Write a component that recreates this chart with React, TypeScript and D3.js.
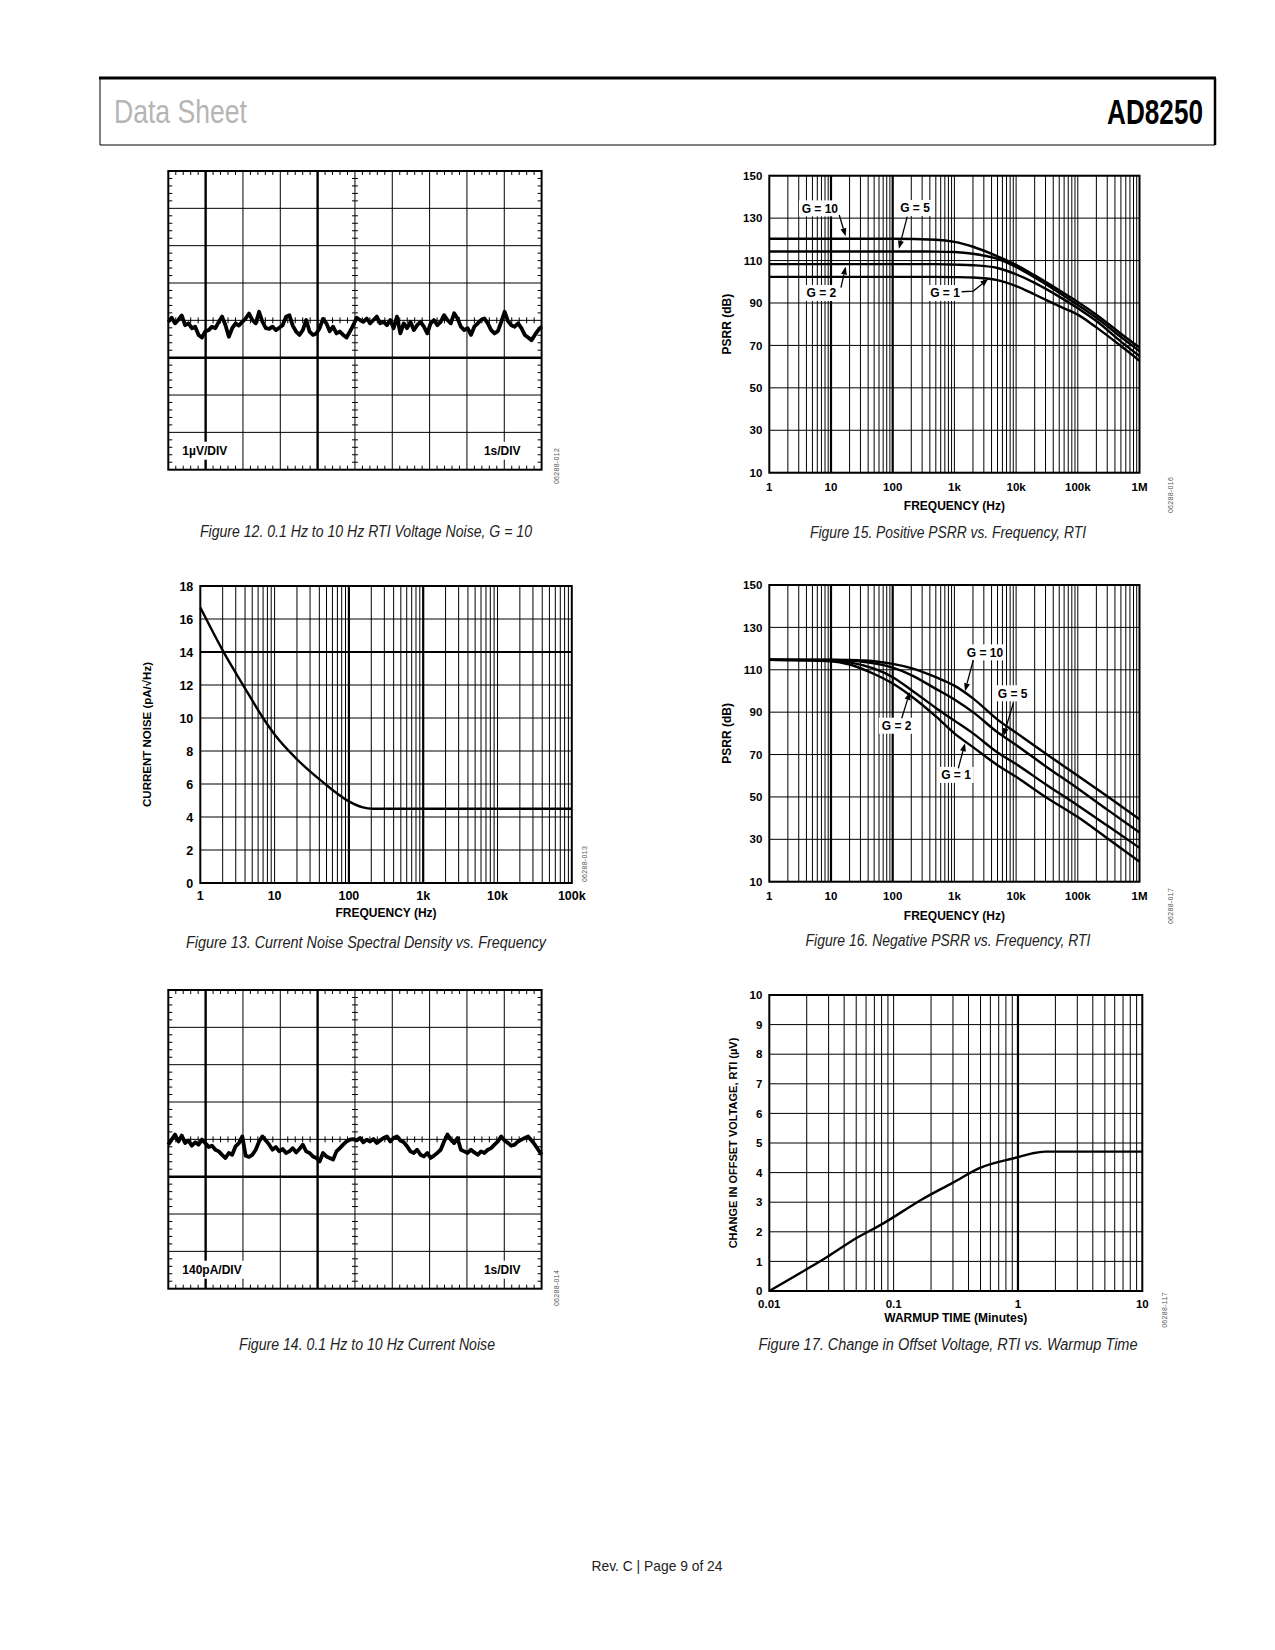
import * as d3 from "d3";

const FONT = "'Liberation Sans', Arial, Helvetica, sans-serif";
const CAP_FONT = "'Liberation Sans Narrow', 'Arial Narrow', 'Liberation Sans', sans-serif";

// ---- Fig 12: 0.1 Hz to 10 Hz voltage noise trace (uV, 1 uV/div)
const voltageNoise = [
  -0.04, 0.07, -0.08, 0.01, 0.13, -0.13, -0.08, -0.21, -0.17, -0.39, -0.46, -0.3, -0.26, -0.17,
  -0.21, -0.04, 0.1, -0.13, -0.44, -0.21, -0.08, -0.14, -0.04, 0.05, 0.18, 0.01, -0.08, 0.23,
  -0.04, -0.21, -0.23, -0.17, -0.26, -0.2, -0.13, 0.1, 0.14, -0.14, -0.3, -0.39, -0.26, 0.01,
  -0.3, -0.39, -0.35, -0.21, 0.04, -0.08, -0.29, -0.17, -0.35, -0.3, -0.39, -0.46, -0.3, -0.13,
  0.07, 0.01, -0.04, 0.05, -0.08, 0.01, 0.1, -0.08, -0.04, -0.13, 0.01, -0.21, 0.1, -0.35,
  -0.08, -0.21, -0.04, -0.26, -0.13, -0.04, -0.17, -0.35, -0.08, 0.01, -0.13, -0.04, 0.14, 0.01,
  -0.08, 0.19, 0.05, -0.17, -0.26, -0.21, -0.39, -0.17, -0.08, 0.01, 0.05, -0.08, -0.26, -0.35,
  -0.29, -0.04, 0.23, -0.02, -0.13, -0.17, -0.08, -0.21, -0.39, -0.46, -0.53, -0.39, -0.26, -0.17,
];

// ---- Fig 14: 0.1 Hz to 10 Hz current noise trace (pA, 140 pA/div)
const currentNoise = [
  -20, -1, 18, -8, 14, -14, -4, -24, -11, -20, -1, -14, -29, -24, -39, -45, -58, -70, -51, -58,
  -26, -14, 11, -61, -66, -58, -39, -8, 11, -4, -20, -39, -29, -45, -36, -51, -45, -33, -49, -36,
  -20, -45, -51, -64, -70, -83, -51, -64, -70, -76, -45, -33, -20, -8, -1, 1, -4, 5, -11, -1,
  -8, 1, -14, -4, 5, 11, -8, 5, 11, -4, -11, -26, -45, -51, -39, -58, -64, -51, -70, -61,
  -51, -39, -8, 18, -1, -14, 5, -39, -45, -51, -39, -49, -58, -45, -51, -39, -33, -20, -8, 11,
  -4, -14, -24, -20, -8, -1, 5, 11, -4, -20, -39, -58,
];

// ---- Fig 13: current noise spectral density
const cnFreq = [1, 2, 4, 7, 10, 20, 45, 100, 150, 214, 1000, 10000, 100000];
const cnDensity = [16.7, 14.1, 11.8, 10.0, 9.0, 7.5, 6.1, 4.95, 4.6, 4.5, 4.5, 4.5, 4.5];

// ---- Fig 15: positive PSRR
const posFreq = [1, 100, 500, 1e3, 2e3, 5e3, 1e4, 2e4, 5e4, 1e5, 2e5, 5e5, 1e6];
const posG10 = [120.3, 120.3, 119.8, 118.8, 116.5, 112, 108, 103, 96, 90.5, 84.5, 75.5, 69];
const posG5 = [114.3, 114.3, 114.2, 114, 113.2, 110.8, 107, 102, 94.8, 89, 83, 74, 67.3];
const posG2 = [108.3, 108.3, 108.3, 108.1, 107.8, 106.5, 103.5, 99.5, 93, 87.5, 81.5, 71.8, 65];
const posG1 = [102.3, 102.3, 102.3, 102.2, 102, 100.8, 98, 94, 88.5, 84.5, 78.5, 69.7, 62.8];

// ---- Fig 16: negative PSRR
const negFreq = [1, 10, 20, 50, 100, 200, 500, 1e3, 2e3, 5e3, 1e4, 3e4, 1e5, 3e5, 1e6];
const negG10 = [114.7, 114.7, 114.6, 114, 112.8, 110.8, 106.5, 102.5, 96.5, 86.5, 80.3, 70.5, 60, 50.3, 39.5];
const negG5 = [114.7, 114.6, 114.3, 113, 111, 107.5, 101, 96, 90, 80.5, 74.5, 64.5, 54, 44, 33.2];
const negG2 = [114.7, 114.4, 113.5, 110.5, 106.5, 100.5, 92, 86, 80, 71, 65.5, 56, 46, 36.5, 26];
const negG1 = [114.7, 114, 112.5, 108, 103.5, 97.5, 88, 80, 73.5, 65, 59.5, 50, 40.5, 30.5, 19.5];

// ---- Fig 17: offset change vs warmup time
const warmTime = [0.01, 0.0195, 0.0294, 0.05, 0.08, 0.17, 0.3, 0.49, 1, 1.3, 1.65, 3, 10];
const warmOffset = [0, 0.71, 1.16, 1.78, 2.25, 3.1, 3.66, 4.15, 4.52, 4.65, 4.71, 4.71, 4.71];

const freqLabels = ["1", "10", "100", "1k", "10k", "100k", "1M"];
const freqTickValues = [1, 10, 100, 1e3, 1e4, 1e5, 1e6];
const psrrTicks = [10, 30, 50, 70, 90, 110, 130, 150];
const noiseTicks = [0, 2, 4, 6, 8, 10, 12, 14, 16, 18];
const offsetTicks = [0, 1, 2, 3, 4, 5, 6, 7, 8, 9, 10];
const timeTickValues = [0.01, 0.1, 1, 10];
const timeLabels = ["0.01", "0.1", "1", "10"];

type Pt = [number, number];
interface Series { xs: number[]; ys: number[] }
interface Note { text: string; at: Pt; arrow: Pt[] }

const zip = (xs: number[], ys: number[]): Pt[] => xs.map((v, i) => [v, ys[i]]);

function Caption({ x, y, w, text }: { x: number; y: number; w: number; text: string }) {
  return (
    <text x={x} y={y} textAnchor="middle" fontFamily={CAP_FONT} fontStyle="italic" fontSize={16}
      textLength={w} lengthAdjust="spacingAndGlyphs" fill="#222">
      {text}
    </text>
  );
}

function Stamp({ x, y, text }: { x: number; y: number; text: string }) {
  return (
    <text transform={`translate(${x},${y}) rotate(-90)`} textAnchor="middle" dy="0.35em"
      fontFamily={FONT} fontSize={7} fill="#555" letterSpacing={0.3}>
      {text}
    </text>
  );
}

function Arrow({ pts }: { pts: Pt[] }) {
  const n = pts.length;
  const [tx, ty] = pts[n - 1];
  const [px, py] = pts[n - 2];
  const ang = Math.atan2(ty - py, tx - px);
  const L = 8, W = 3;
  const bx = tx - L * Math.cos(ang), by = ty - L * Math.sin(ang);
  const nx = -Math.sin(ang) * W, ny = Math.cos(ang) * W;
  const path = d3.line()(pts.slice(0, n - 1).concat([[bx, by]]));
  return (
    <g>
      <path d={path || ""} fill="none" stroke="#000" strokeWidth={1.3} />
      <polygon points={`${tx},${ty} ${bx + nx},${by + ny} ${bx - nx},${by - ny}`} fill="#000" />
    </g>
  );
}

interface LogChartProps {
  left: number; top: number; width: number; height: number;
  xDomain: [number, number]; yDomain: [number, number];
  yTicks: number[]; xTickValues: number[]; xTickLabels: string[];
  thickX: number[]; thickY: number[];
  series: Series[]; notes?: Note[];
  yTitle: string; yTitleX: number; yTitleSize?: number; tickSize?: number;
  xTitle: string; xLabelY: number; xTitleY: number;
}

function LogChart(p: LogChartProps) {
  const x = d3.scaleLog().domain(p.xDomain).range([p.left, p.left + p.width]);
  const y = d3.scaleLinear().domain(p.yDomain).range([p.top + p.height, p.top]);
  const d0 = Math.round(Math.log10(p.xDomain[0]));
  const d1 = Math.round(Math.log10(p.xDomain[1]));
  const verticals: number[] = [];
  for (let d = d0; d < d1; d++) {
    for (let k = 1; k < 10; k++) {
      const v = +(k * Math.pow(10, d)).toPrecision(4);
      if (v > p.xDomain[0] * 1.0001) verticals.push(v);
    }
  }
  const line = d3.line<Pt>().x((d) => x(d[0])).y((d) => y(d[1])).curve(d3.curveMonotoneX);
  const isThick = (arr: number[], v: number) => arr.some((a) => Math.abs(a - v) / a < 1e-6);
  const ts = p.tickSize || 11.5;
  return (
    <g fontFamily={FONT} fontWeight="bold">
      {verticals.map((v) => (
        <line key={"v" + v} x1={x(v)} x2={x(v)} y1={p.top} y2={p.top + p.height}
          stroke="#000" strokeWidth={isThick(p.thickX, v) ? 2.2 : 1} />
      ))}
      {p.yTicks.map((t) => (
        <line key={"h" + t} x1={p.left} x2={p.left + p.width} y1={y(t)} y2={y(t)}
          stroke="#000" strokeWidth={isThick(p.thickY, t) ? 2.2 : 1} />
      ))}
      <rect x={p.left} y={p.top} width={p.width} height={p.height} fill="none" stroke="#000" strokeWidth={2} />
      {p.series.map((s, i) => (
        <path key={"s" + i} d={line(zip(s.xs, s.ys)) || ""} fill="none" stroke="#000" strokeWidth={2.4} />
      ))}
      {(p.notes || []).map((n, i) => {
        const cx = x(n.at[0]), cy = y(n.at[1]);
        const w = n.text.length * 6.3 + 4;
        return (
          <g key={"n" + i}>
            <rect x={cx - w / 2} y={cy - 8} width={w} height={16} fill="#fff" />
            <text x={cx} y={cy} dy="0.36em" textAnchor="middle" fontSize={12}>{n.text}</text>
            <Arrow pts={n.arrow.map((a) => [x(a[0]), y(a[1])] as Pt)} />
          </g>
        );
      })}
      {p.yTicks.map((t) => (
        <text key={"yl" + t} x={p.left - 7} y={y(t)} dy="0.36em" textAnchor="end" fontSize={ts}>{t}</text>
      ))}
      {p.xTickValues.map((t, i) => (
        <text key={"xl" + t} x={x(t)} y={p.xLabelY} dy="0.36em" textAnchor="middle" fontSize={ts}>
          {p.xTickLabels[i]}
        </text>
      ))}
      <text x={p.left + p.width / 2} y={p.xTitleY} dy="0.36em" textAnchor="middle" fontSize={12}>{p.xTitle}</text>
      <text transform={`translate(${p.yTitleX},${p.top + p.height / 2}) rotate(-90)`} dy="0.36em"
        textAnchor="middle" fontSize={p.yTitleSize || 12}>{p.yTitle}</text>
    </g>
  );
}

interface ScopeProps {
  left: number; top: number; width: number; height: number;
  trace: number[]; perDiv: number; vLabel: string; tLabel: string;
}

function Scope(p: ScopeProps) {
  const cols = d3.range(0, 11);
  const rows = d3.range(0, 9);
  const gx = d3.scaleLinear().domain([0, 10]).range([p.left, p.left + p.width]);
  const gy = d3.scaleLinear().domain([0, 8]).range([p.top, p.top + p.height]);
  const x = d3.scaleLinear().domain([0, p.trace.length - 1]).range([p.left, p.left + p.width]);
  const y = d3.scaleLinear().domain([-4 * p.perDiv, 4 * p.perDiv]).range([p.top + p.height, p.top]);
  const line = d3.line<number>().x((_, i) => x(i)).y((d) => y(d));
  const minorX = d3.range(1, 50).filter((i) => i % 5 !== 0).map((i) => i / 5);
  const minorY = d3.range(1, 40).filter((i) => i % 5 !== 0).map((i) => i / 5);
  const labY = p.top + p.height - 19;
  return (
    <g fontFamily={FONT} fontWeight="bold">
      {cols.slice(1, 10).map((c) => (
        <line key={"c" + c} x1={gx(c)} x2={gx(c)} y1={p.top} y2={p.top + p.height} stroke="#000"
          strokeWidth={c === 1 || c === 4 ? 2.4 : 1} />
      ))}
      {rows.slice(1, 8).map((r) => (
        <line key={"r" + r} x1={p.left} x2={p.left + p.width} y1={gy(r)} y2={gy(r)} stroke="#000"
          strokeWidth={r === 5 ? 2.4 : 1} />
      ))}
      {minorX.map((m) => (
        <g key={"mx" + m} stroke="#000" strokeWidth={1}>
          <line x1={gx(m)} x2={gx(m)} y1={p.top} y2={p.top + 4} />
          <line x1={gx(m)} x2={gx(m)} y1={p.top + p.height} y2={p.top + p.height - 4} />
          <line x1={gx(m)} x2={gx(m)} y1={gy(4) - 3} y2={gy(4) + 3} />
        </g>
      ))}
      {minorY.map((m) => (
        <g key={"my" + m} stroke="#000" strokeWidth={1}>
          <line x1={p.left} x2={p.left + 4} y1={gy(m)} y2={gy(m)} />
          <line x1={p.left + p.width} x2={p.left + p.width - 4} y1={gy(m)} y2={gy(m)} />
          <line x1={gx(5) - 3} x2={gx(5) + 3} y1={gy(m)} y2={gy(m)} />
        </g>
      ))}
      <rect x={p.left} y={p.top} width={p.width} height={p.height} fill="none" stroke="#000" strokeWidth={2} />
      <path d={line(p.trace) || ""} fill="none" stroke="#000" strokeWidth={3.8} strokeLinejoin="round" />
      <rect x={p.left + 10} y={labY - 9} width={p.vLabel.length * 7.6 + 6} height={18} fill="#fff" />
      <text x={p.left + 14} y={labY} dy="0.36em" fontSize={12}>{p.vLabel}</text>
      <rect x={p.left + p.width - 64} y={labY - 9} width={56} height={18} fill="#fff" />
      <text x={p.left + p.width - 21} y={labY} dy="0.36em" textAnchor="end" fontSize={12}>{p.tLabel}</text>
    </g>
  );
}

export default function App() {
  return (
    <svg width={1275} height={1650} viewBox="0 0 1275 1650"
      style={{ position: "absolute", left: 0, top: 0, background: "#fff" }}>
      <rect x={0} y={0} width={1275} height={1650} fill="#fff" />
      {/* page header */}
      <line x1={100} x2={100} y1={78} y2={145} stroke="#000" strokeWidth={1} />
      <line x1={100} x2={1215} y1={145} y2={145} stroke="#000" strokeWidth={1} />
      <line x1={99} x2={1216} y1={78} y2={78} stroke="#000" strokeWidth={3} />
      <line x1={1215} x2={1215} y1={78} y2={145} stroke="#000" strokeWidth={2.5} />
      <text x={114} y={123} fontFamily={CAP_FONT} fontSize={33} fill="#b5b5b5"
        textLength={133} lengthAdjust="spacingAndGlyphs">Data Sheet</text>
      <text x={1203} y={124} textAnchor="end" fontFamily={CAP_FONT} fontWeight="bold" fontSize={35}
        fill="#000" textLength={96} lengthAdjust="spacingAndGlyphs">AD8250</text>

      {/* Figure 12 */}
      <Scope left={168.3} top={171} width={373.3} height={298.7} trace={voltageNoise} perDiv={1}
        vLabel="1µV/DIV" tLabel="1s/DIV" />
      <Stamp x={557} y={466} text="06288-012" />
      <Caption x={366} y={537} w={332} text="Figure 12. 0.1 Hz to 10 Hz RTI Voltage Noise, G = 10" />

      {/* Figure 13 */}
      <LogChart left={200.3} top={586} width={371.5} height={297} xDomain={[1, 1e5]} yDomain={[0, 18]}
        yTicks={noiseTicks} xTickValues={freqTickValues.slice(0, 6)} xTickLabels={freqLabels.slice(0, 6)}
        thickX={[100, 1000]} thickY={[14]} tickSize={12.5}
        series={[{ xs: cnFreq, ys: cnDensity }]}
        yTitle="CURRENT NOISE (pA/√Hz)" yTitleX={146.7} yTitleSize={11.5}
        xTitle="FREQUENCY (Hz)" xLabelY={895} xTitleY={913} />
      <Stamp x={585} y={864} text="06288-013" />
      <Caption x={366} y={948} w={360} text="Figure 13. Current Noise Spectral Density vs. Frequency" />

      {/* Figure 14 */}
      <Scope left={168.3} top={990} width={373.3} height={298.7} trace={currentNoise} perDiv={140}
        vLabel="140pA/DIV" tLabel="1s/DIV" />
      <Stamp x={557} y={1288} text="06288-014" />
      <Caption x={367} y={1350} w={256} text="Figure 14. 0.1 Hz to 10 Hz Current Noise" />

      {/* Figure 15 */}
      <LogChart left={769.3} top={175.7} width={370.2} height={297} xDomain={[1, 1e6]} yDomain={[10, 150]}
        yTicks={psrrTicks} xTickValues={freqTickValues} xTickLabels={freqLabels}
        thickX={[10, 100]} thickY={[]}
        series={[
          { xs: posFreq, ys: posG10 }, { xs: posFreq, ys: posG5 },
          { xs: posFreq, ys: posG2 }, { xs: posFreq, ys: posG1 },
        ]}
        notes={[
          { text: "G = 10", at: [6.6, 134.6], arrow: [[13.6, 131.5], [17.3, 121.4]] },
          { text: "G = 5", at: [230, 134.8], arrow: [[172, 130.7], [126, 115.6]] },
          { text: "G = 2", at: [7.0, 94.7], arrow: [[14.5, 97.2], [17.3, 107.2]] },
          { text: "G = 1", at: [705, 94.7], arrow: [[1313, 95.3], [2024, 95.6], [3540, 101.4]] },
        ]}
        yTitle="PSRR (dB)" yTitleX={726.7}
        xTitle="FREQUENCY (Hz)" xLabelY={487} xTitleY={506} />
      <Stamp x={1171} y={495} text="06288-016" />
      <Caption x={948} y={538} w={276} text="Figure 15. Positive PSRR vs. Frequency, RTI" />

      {/* Figure 16 */}
      <LogChart left={769.3} top={585} width={370.2} height={296.7} xDomain={[1, 1e6]} yDomain={[10, 150]}
        yTicks={psrrTicks} xTickValues={freqTickValues} xTickLabels={freqLabels}
        thickX={[10, 100]} thickY={[]}
        series={[
          { xs: negFreq, ys: negG10 }, { xs: negFreq, ys: negG5 },
          { xs: negFreq, ys: negG2 }, { xs: negFreq, ys: negG1 },
        ]}
        notes={[
          { text: "G = 10", at: [3133, 118.2], arrow: [[2024, 114.6], [1486, 99.9]] },
          { text: "G = 5", at: [8810, 98.9], arrow: [[9016, 94.2], [6205, 78.6]] },
          { text: "G = 2", at: [116, 83.6], arrow: [[140, 87.1], [190, 99.5]] },
          { text: "G = 1", at: [1062, 60.4], arrow: [[1156, 63.5], [1486, 75.3]] },
        ]}
        yTitle="PSRR (dB)" yTitleX={726.7}
        xTitle="FREQUENCY (Hz)" xLabelY={896} xTitleY={916} />
      <Stamp x={1171} y={906} text="06288-017" />
      <Caption x={948} y={946} w={285} text="Figure 16. Negative PSRR vs. Frequency, RTI" />

      {/* Figure 17 */}
      <LogChart left={769.3} top={995} width={373} height={296} xDomain={[0.01, 10]} yDomain={[0, 10]}
        yTicks={offsetTicks} xTickValues={timeTickValues} xTickLabels={timeLabels}
        thickX={[1]} thickY={[]}
        series={[{ xs: warmTime, ys: warmOffset }]}
        yTitle="CHANGE IN OFFSET VOLTAGE, RTI (µV)" yTitleX={733.3} yTitleSize={11}
        xTitle="WARMUP TIME (Minutes)" xLabelY={1304} xTitleY={1318} />
      <Stamp x={1165} y={1310} text="06288-117" />
      <Caption x={948} y={1350} w={379} text="Figure 17. Change in Offset Voltage, RTI vs. Warmup Time" />

      {/* footer */}
      <text x={657} y={1571} textAnchor="middle" fontFamily={CAP_FONT} fontSize={15} fill="#222"
        textLength={131} lengthAdjust="spacingAndGlyphs">Rev. C | Page 9 of 24</text>
    </svg>
  );
}
